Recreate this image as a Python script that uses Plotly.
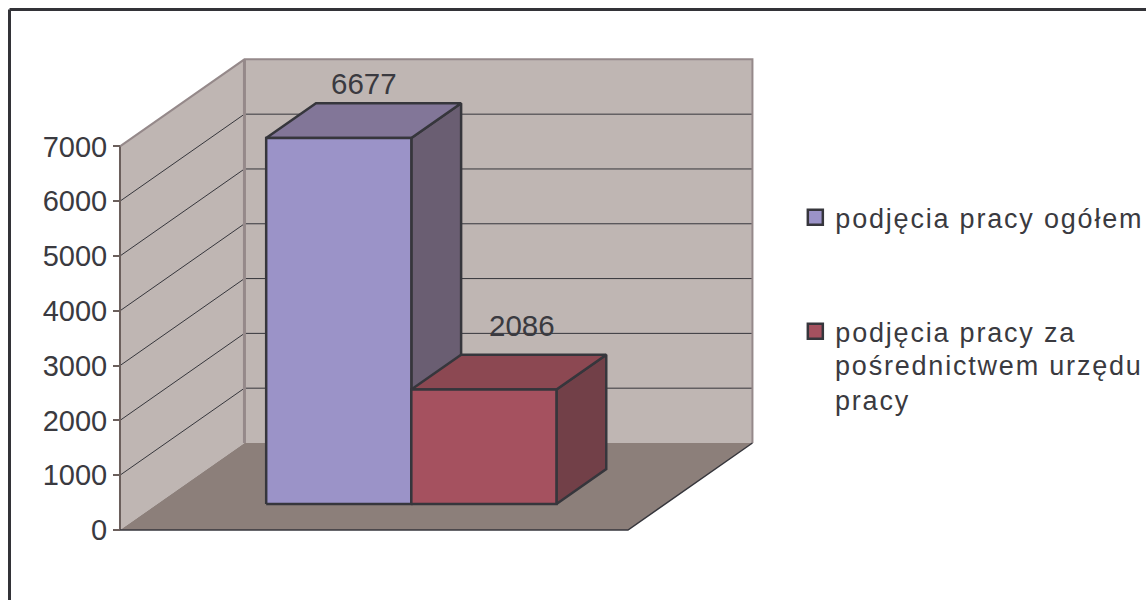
import plotly.graph_objects as go

# Values
series_names = ['podjęcia pracy ogółem', 'podjęcia pracy za']
name_continuation = 'pośrednictwem urzędu<br>pracy'
series_values = [6677, 2086]
tick_values = [0, 1000, 2000, 3000, 4000, 5000, 6000, 7000]

# Colours per bar: front, top, side
front_colors = ['#9b93c8', '#a5515f']
top_colors = ['#827698', '#8c4852']
side_colors = ['#6a5e72', '#724048']
line_dark = '#36363c'
text_dark = '#3a3a40'

# Oblique projection of the fake 3D box
y_max = 7000
depth_dx = 0.245
depth_dy = 1588
bar_left = 0.2143
bar_width = 0.2857
bar_depth_from = 0.3
bar_depth_to = 0.7


def project(x, depth, value):
    return x + depth * depth_dx, value + depth * depth_dy


def face(points, fill, line_color=line_dark, line_width=0):
    xs, ys = zip(*[project(*p) for p in points])
    return go.Scatter(x=list(xs) + [xs[0]], y=list(ys) + [ys[0]], mode='lines', fill='toself',
                      fillcolor=fill, line=dict(color=line_color, width=line_width),
                      hoverinfo='skip', showlegend=False)


def edge(points, color, width):
    xs, ys = zip(*[project(*p) for p in points])
    return go.Scatter(x=xs, y=ys, mode='lines', line=dict(color=color, width=width),
                      hoverinfo='skip', showlegend=False)


fig = go.Figure()

# Walls and floor
wall = '#bfb6b3'
fig.add_trace(face([(0, 0, 0), (0, 1, 0), (0, 1, y_max), (0, 0, y_max)], wall))
fig.add_trace(face([(0, 1, 0), (1, 1, 0), (1, 1, y_max), (0, 1, y_max)], wall))
fig.add_trace(face([(0, 0, 0), (1, 0, 0), (1, 1, 0), (0, 1, 0)], '#8c7f7a'))

# Gridlines on both walls
for v in tick_values[1:-1]:
    fig.add_trace(edge([(0, 0, v), (0, 1, v), (1, 1, v)], line_dark, 1))

# Wall edges
edge_color = '#95898a'
fig.add_trace(edge([(0, 0, y_max), (0, 1, y_max), (1, 1, y_max), (1, 1, 0)], edge_color, 2))
fig.add_trace(edge([(0, 1, 0), (0, 1, y_max)], edge_color, 3))
fig.add_trace(edge([(0, 0, 0), (0, 0, y_max)], '#6b5f5c', 2))
fig.add_trace(edge([(0, 0, 0), (1, 0, 0), (1, 1, 0)], line_dark, 1.5))

# Bars, each one a front, top and side face
for i, value in enumerate(series_values):
    x0 = bar_left + i * bar_width
    x1 = x0 + bar_width
    d0, d1 = bar_depth_from, bar_depth_to
    fig.add_trace(face([(x1, d0, 0), (x1, d1, 0), (x1, d1, value), (x1, d0, value)], side_colors[i], line_dark, 2.5))
    fig.add_trace(face([(x0, d0, value), (x1, d0, value), (x1, d1, value), (x0, d1, value)], top_colors[i], line_dark, 2.5))
    fig.add_trace(face([(x0, d0, 0), (x1, d0, 0), (x1, d0, value), (x0, d0, value)], front_colors[i], line_dark, 2.5))

# Legend entries
for i, name in enumerate(series_names):
    fig.add_trace(go.Scatter(x=[None], y=[None], mode='markers', name=name, legendgroup=str(i),
                             marker=dict(symbol='square', size=15, color=front_colors[i],
                                         line=dict(color=line_dark, width=2.5))))

# Data labels above the bars
label_shifts = [(0, 37), (13, 47)]
for i, value in enumerate(series_values):
    cx, cy = project(bar_left + (i + 0.5) * bar_width, 0.5, value)
    fig.add_annotation(x=cx, y=cy, text=str(value), showarrow=False, xshift=label_shifts[i][0],
                       yshift=label_shifts[i][1], font=dict(size=29.5, color=text_dark))

# Legend text that wraps below the second entry, so its swatch stays on the first line
fig.add_annotation(xref='paper', yref='paper', x=833 / 1146, y=1 - 349 / 600, xanchor='left', yanchor='top',
                   text=name_continuation, showarrow=False, align='left', font=dict(size=27, color=text_dark))

fig.update_layout(
    width=1146, height=600,
    margin=dict(l=0, r=0, t=0, b=0),
    paper_bgcolor='white', plot_bgcolor='white',
    font=dict(family='Liberation Sans, Arial, sans-serif', color=text_dark),
    xaxis=dict(visible=False, range=[-0.2362, 2.0197], fixedrange=True),
    yaxis=dict(range=[-1277, 9671], anchor='free', position=120 / 1146, tickvals=tick_values,
               ticks='outside', ticklen=7, tickcolor='#6b5f5c', tickwidth=1.5, showgrid=False,
               zeroline=False, showline=False, tickfont=dict(size=29, color=text_dark), fixedrange=True),
    legend=dict(x=0.694, y=0.678, xanchor='left', yanchor='top', tracegroupgap=76,
                font=dict(size=27, color=text_dark), itemwidth=30, bgcolor='rgba(0,0,0,0)'),
    shapes=[
        dict(type='line', xref='paper', yref='paper', x0=9.5 / 1146, x1=1, y0=1 - 9.5 / 600, y1=1 - 9.5 / 600,
             line=dict(color='#333338', width=3)),
        dict(type='line', xref='paper', yref='paper', x0=9.5 / 1146, x1=9.5 / 1146, y0=0, y1=1 - 9.5 / 600,
             line=dict(color='#333338', width=3)),
    ],
)

# Page margin off, the wider letter spacing of the legend text, and no clipping of the wider text
page_css = """
document.body.style.margin = '0';
var s = document.createElement('style');
s.textContent = '.legendtext, .annotation[data-index="2"] text {letter-spacing: 1.8px;}'
    + ' .legend .scrollbox {clip-path: none !important;}';
document.head.appendChild(s);
"""
fig.write_html("out.html", post_script=page_css, config=dict(displayModeBar=False))
